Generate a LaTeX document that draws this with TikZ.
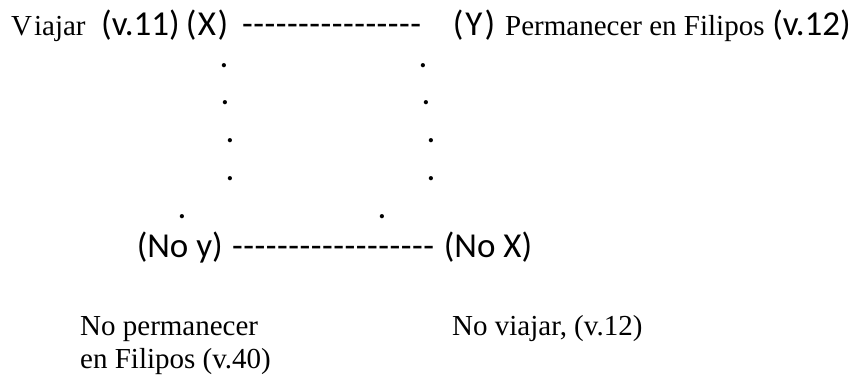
\documentclass[tikz,border=0pt]{standalone}
\usepackage{fontspec}
\setmainfont{Liberation Serif}
\newfontfamily\calfont{Carlito}
\tikzset{
  serif/.style={inner sep=0pt, anchor=base west, font=\fontsize{29}{33}\selectfont},
  sans/.style={inner sep=0pt, anchor=base west, font=\calfont\fontsize{35}{40}\selectfont},
  dotmark/.style={inner sep=0pt, anchor=center, font=\calfont\fontsize{35}{40}\selectfont},
}
\newcommand{\hyphens}[2]{\makebox[#1][s]{#2}}
\begin{document}
\begin{tikzpicture}[x=1pt,y=-1pt]
\useasboundingbox (0,0) rectangle (861,378);
% top row
\node[serif] (viajar) at (11,35) {V\kern2pt iajar};
\node[sans] (v11) at (101,35) {(v.11)};
\node[sans, anchor=base] (X) at (207,35) {(\kern1.5pt X\kern1.5pt)};
\node[sans] (topdash) at (242,35) {\hyphens{179pt}{-\hfill-\hfill-\hfill-\hfill-\hfill-\hfill-\hfill-\hfill-\hfill-\hfill-\hfill-\hfill-\hfill-\hfill-\hfill-}};
\node[sans, anchor=base] (Y) at (474,35) {(\kern2pt Y\kern2pt)};
\node[serif] (perm) at (505,35) {Permanecer en Filipos};
\node[sans, anchor=base east] (v12) at (851,35) {(v.12)};
% dots left
\node[dotmark] (l1) at (224,66) {.};
\node[dotmark] (l2) at (225,103) {.};
\node[dotmark] (l3) at (230,141) {.};
\node[dotmark] (l4) at (230,179) {.};
\node[dotmark] (l5) at (182,217) {.};
% dots right
\node[dotmark] (r1) at (423,66) {.};
\node[dotmark] (r2) at (426,103) {.};
\node[dotmark] (r3) at (431,141) {.};
\node[dotmark] (r4) at (431,179) {.};
\node[dotmark] (r5) at (382,217) {.};
% bottom row
\node[sans, anchor=base east] (noy) at (223,257) {(No y)};
\node[sans] (botdash) at (232,257) {\hyphens{202pt}{-\hfill-\hfill-\hfill-\hfill-\hfill-\hfill-\hfill-\hfill-\hfill-\hfill-\hfill-\hfill-\hfill-\hfill-\hfill-\hfill-\hfill-}};
\node[sans, anchor=base] (nox) at (488,257) {(No X)};
% captions
\node[serif] (noperm) at (80,335) {No permanecer};
\node[serif] (enfil) at (80,368) {en Filipos (v.40)};
\node[serif] (noviajar) at (452,335) {No viajar, (v.12)};
\end{tikzpicture}
\end{document}
